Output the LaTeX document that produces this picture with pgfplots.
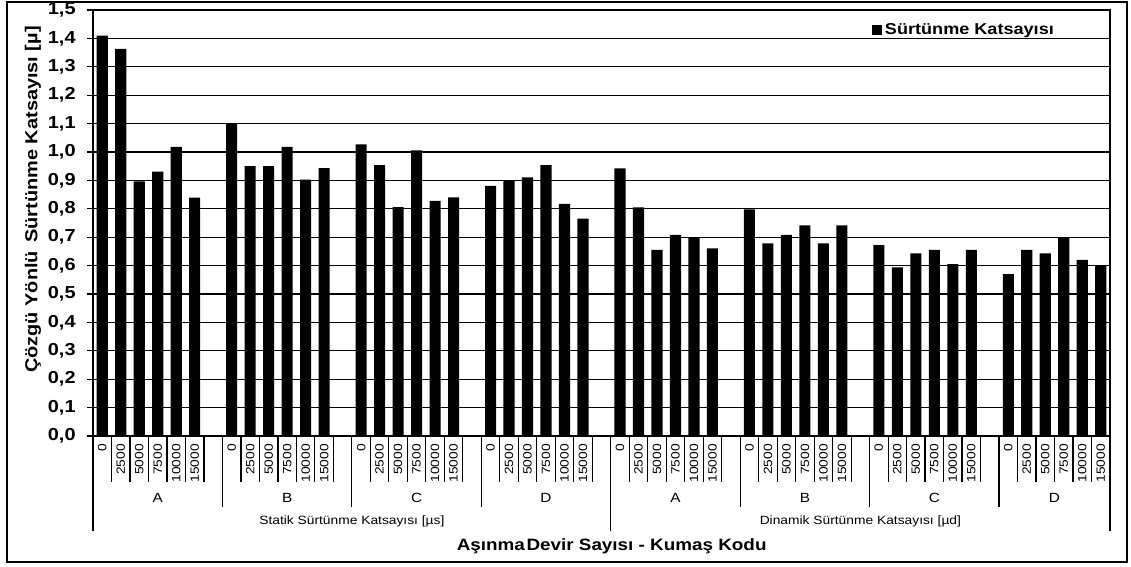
\documentclass[border=0pt]{standalone}
\usepackage{pgfplots}
\pgfplotsset{compat=1.18}
\usepackage{fontspec}
\setmainfont{Liberation Sans}[FakeStretch=1.15]

% 1 px of the reference = 0.75pt
\begin{document}
\begin{tikzpicture}
\useasboundingbox (-69.75pt,-98.25pt) rectangle (778.5pt,327pt);
\draw[line width=1.1pt] (-64.5pt,-94.5pt) rectangle (775.5pt,325.5pt);
\begin{axis}[
  at={(0,0)}, anchor=south west,
  scale only axis,
  width=762.75pt, height=319.5pt,
  clip=false,
  ybar, bar width=0.6,
  xmin=-0.5, xmax=54.5,
  ymin=0, ymax=1.5,
  ytick distance=0.1,
  enlargelimits=false,
  axis line style={black, line width=1.1pt},
  ymajorgrids,
  major grid style={black, line width=0.9pt},
  tick align=outside,
  xtick pos=bottom, ytick pos=left,
  major tick length=4.5pt,
  minor tick length=34.5pt,
  major x tick style={draw=none},
  minor x tick style={black, line width=0.9pt},
  y tick style={black, line width=0.9pt},
  xtick={0,...,54},
  minor xtick={0.5,1.5,...,53.5},
  xticklabels={0,2500,5000,7500,10000,15000,{},
               0,2500,5000,7500,10000,15000,{},
               0,2500,5000,7500,10000,15000,{},
               0,2500,5000,7500,10000,15000,{},
               0,2500,5000,7500,10000,15000,{},
               0,2500,5000,7500,10000,15000,{},
               0,2500,5000,7500,10000,15000,{},
               0,2500,5000,7500,10000,15000},
  xticklabel style={rotate=90, anchor=east, inner sep=1.5pt,
    font=\fontsize{9}{9}\selectfont},
  /pgf/number format/assume math mode=true,
  yticklabel style={font=\bfseries\fontsize{13}{13}\selectfont, xshift=-5pt,
    /pgf/number format/.cd, fixed, fixed zerofill, precision=1, use comma},
  ylabel={Çözgü Yönlü\, Sürtünme Katsayısı [µ]},
  every axis y label/.style={at={([xshift=-45pt]rel axis cs:0,0.555)},
    rotate=90, anchor=center,
    font=\bfseries\fontsize{13}{15}\selectfont},
  xlabel={Aşınma\hspace{0.1em}Devir Sayısı - Kumaş Kodu},
  every axis x label/.style={at={([yshift=-82.5pt]rel axis cs:0.51,0)},
    anchor=center, font=\bfseries\fontsize{12.3}{14}\selectfont},
  legend style={at={(0.766,0.953)}, anchor=west, draw=none, fill=none,
    inner sep=0pt, font=\bfseries\fontsize{11.8}{13}\selectfont},
  legend image code/.code={\fill[black] (0pt,-3.75pt) rectangle (7.5pt,3.75pt);},
]
% Statik: A, B, C, D at x = 0..5, 7..12, 14..19, 21..26
% Dinamik: A, B, C, D at x = 28..33, 35..40, 42..47, 49..54
\addplot[fill=black, draw=none] coordinates {
  (0,1.410) (1,1.363) (2,0.897) (3,0.931) (4,1.018) (5,0.839)
  (7,1.098) (8,0.950) (9,0.950) (10,1.018) (11,0.903) (12,0.943)
  (14,1.027) (15,0.954) (16,0.806) (17,1.006) (18,0.828) (19,0.840)
  (21,0.881) (22,0.898) (23,0.911) (24,0.954) (25,0.817) (26,0.765)
  (28,0.942) (29,0.805) (30,0.655) (31,0.708) (32,0.700) (33,0.661)
  (35,0.798) (36,0.678) (37,0.708) (38,0.742) (39,0.678) (40,0.742)
  (42,0.672) (43,0.594) (44,0.643) (45,0.655) (46,0.605) (47,0.655)
  (49,0.570) (50,0.655) (51,0.643) (52,0.700) (53,0.620) (54,0.598)
};
\addlegendentry{Sürtünme Katsayısı}

% separators of the category levels
\pgfplotsinvokeforeach{6.5,13.5,20.5,34.5,41.5,48.5}{
  \draw[black, line width=0.9pt] (axis cs:#1,0) -- ([yshift=-53.25pt]axis cs:#1,0);
}
\pgfplotsinvokeforeach{-0.5,27.5,54.5}{
  \draw[black, line width=0.9pt] (axis cs:#1,0) -- ([yshift=-71.25pt]axis cs:#1,0);
}
\node[font=\fontsize{10}{10}\selectfont] at ([yshift=-46.5pt]axis cs:3,0) {A};
\node[font=\fontsize{10}{10}\selectfont] at ([yshift=-46.5pt]axis cs:10,0) {B};
\node[font=\fontsize{10}{10}\selectfont] at ([yshift=-46.5pt]axis cs:17,0) {C};
\node[font=\fontsize{10}{10}\selectfont] at ([yshift=-46.5pt]axis cs:24,0) {D};
\node[font=\fontsize{10}{10}\selectfont] at ([yshift=-46.5pt]axis cs:31,0) {A};
\node[font=\fontsize{10}{10}\selectfont] at ([yshift=-46.5pt]axis cs:38,0) {B};
\node[font=\fontsize{10}{10}\selectfont] at ([yshift=-46.5pt]axis cs:45,0) {C};
\node[font=\fontsize{10}{10}\selectfont] at ([yshift=-46.5pt]axis cs:51.5,0) {D};
\node[font=\fontsize{9}{9}\selectfont] at ([yshift=-63.75pt]axis cs:13.5,0) {Statik Sürtünme Katsayısı [µs]};
\node[font=\fontsize{9}{9}\selectfont] at ([yshift=-63.75pt]axis cs:41,0) {Dinamik Sürtünme Katsayısı [µd]};
\end{axis}
\end{tikzpicture}
\end{document}
